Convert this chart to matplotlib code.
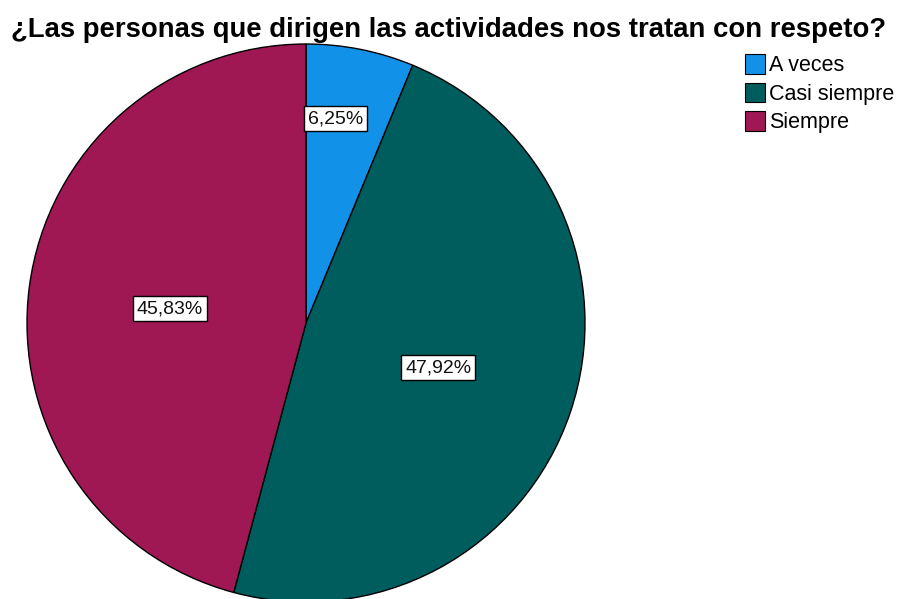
import matplotlib
matplotlib.use("Agg")
import matplotlib.pyplot as plt
import numpy as np
from matplotlib.patches import Patch

plt.rcParams['font.family'] = ['Liberation Sans', 'DejaVu Sans']

title = "¿Las personas que dirigen las actividades nos tratan con respeto?"
categories = ["A veces", "Casi siempre", "Siempre"]
values = [6.25, 47.92, 45.83]
colors = ["#1192e8", "#005d5d", "#9f1853"]

W, H = 905, 599
fig = plt.figure(figsize=(W / 100, H / 100), dpi=100)
cx, cy, r = 306, 323, 279
ax = fig.add_axes([(cx - r) / W, (H - cy - r) / H, 2 * r / W, 2 * r / H])
ax.axis('off')

wedges, texts, autotexts = ax.pie(
    values, colors=colors, startangle=90, counterclock=False, radius=1,
    autopct=lambda p: f"{p:.2f}%".replace('.', ','), pctdistance=0.5,
    wedgeprops=dict(edgecolor='black', linewidth=1.0),
    textprops=dict(fontsize=14, color='#111111'))
ax.set_xlim(-1, 1)
ax.set_ylim(-1, 1)
ax.set_aspect('auto')

for w, t in zip(wedges, autotexts):
    t.set_bbox(dict(facecolor='white', edgecolor='black', linewidth=1.0, boxstyle='square,pad=0.2'))
# small slice label placed further out
w0 = wedges[0]
ang = np.deg2rad((w0.theta1 + w0.theta2) / 2 + 3)
autotexts[0].set_position((0.74 * np.cos(ang), 0.74 * np.sin(ang)))
# slight nudge of the large-slice labels toward the reference placement
w2 = wedges[2]
ang2 = np.deg2rad((w2.theta1 + w2.theta2) / 2 + 1.5)
autotexts[2].set_position((0.49 * np.cos(ang2), 0.49 * np.sin(ang2)))

fig.text(449 / W, 1 - 30 / H, title, ha='center', va='center', fontsize=19.8, fontweight='bold')

handles = [Patch(facecolor=c, edgecolor='black', linewidth=0.8) for c in colors]
fig.legend(handles, categories, loc='upper left', bbox_to_anchor=(741 / W, 1 - 50 / H),
           frameon=False, fontsize=15.5, handlelength=0.92, handleheight=1.0,
           handletextpad=0.2, labelspacing=0.3, borderaxespad=0, borderpad=0.2)

fig.savefig("out.png", dpi=100)
